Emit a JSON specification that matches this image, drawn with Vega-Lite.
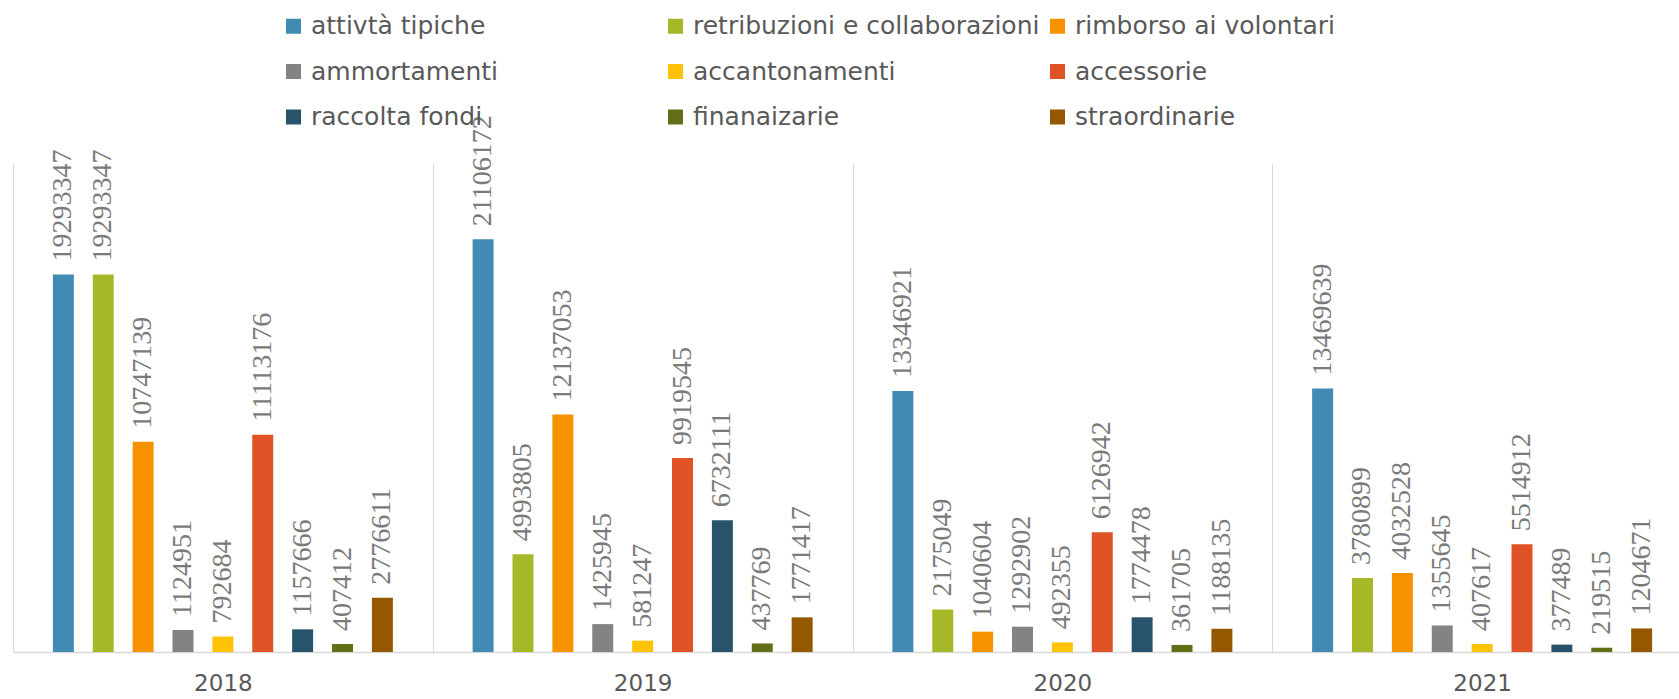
{
  "$schema": "https://vega.github.io/schema/vega-lite/v6.json",
  "width": 1666,
  "height": 489,
  "autosize": {"type": "none"},
  "padding": {"left": 13, "top": 163, "right": 0, "bottom": 47},
  "background": "white",
  "config": {"view": {"stroke": null}},
  "data": {
    "values": [
      {"anno": "2018", "voce": "attivtà tipiche", "valore": 19293347},
      {"anno": "2018", "voce": "retribuzioni e collaborazioni", "valore": 19293347},
      {"anno": "2018", "voce": "rimborso ai volontari", "valore": 10747139},
      {"anno": "2018", "voce": "ammortamenti", "valore": 1124951},
      {"anno": "2018", "voce": "accantonamenti", "valore": 792684},
      {"anno": "2018", "voce": "accessorie", "valore": 11113176},
      {"anno": "2018", "voce": "raccolta fondi", "valore": 1157666},
      {"anno": "2018", "voce": "finanaizarie", "valore": 407412},
      {"anno": "2018", "voce": "straordinarie", "valore": 2776611},
      {"anno": "2019", "voce": "attivtà tipiche", "valore": 21106172},
      {"anno": "2019", "voce": "retribuzioni e collaborazioni", "valore": 4993805},
      {"anno": "2019", "voce": "rimborso ai volontari", "valore": 12137053},
      {"anno": "2019", "voce": "ammortamenti", "valore": 1425945},
      {"anno": "2019", "voce": "accantonamenti", "valore": 581247},
      {"anno": "2019", "voce": "accessorie", "valore": 9919545},
      {"anno": "2019", "voce": "raccolta fondi", "valore": 6732111},
      {"anno": "2019", "voce": "finanaizarie", "valore": 437769},
      {"anno": "2019", "voce": "straordinarie", "valore": 1771417},
      {"anno": "2020", "voce": "attivtà tipiche", "valore": 13346921},
      {"anno": "2020", "voce": "retribuzioni e collaborazioni", "valore": 2175049},
      {"anno": "2020", "voce": "rimborso ai volontari", "valore": 1040604},
      {"anno": "2020", "voce": "ammortamenti", "valore": 1292902},
      {"anno": "2020", "voce": "accantonamenti", "valore": 492355},
      {"anno": "2020", "voce": "accessorie", "valore": 6126942},
      {"anno": "2020", "voce": "raccolta fondi", "valore": 1774478},
      {"anno": "2020", "voce": "finanaizarie", "valore": 361705},
      {"anno": "2020", "voce": "straordinarie", "valore": 1188135},
      {"anno": "2021", "voce": "attivtà tipiche", "valore": 13469639},
      {"anno": "2021", "voce": "retribuzioni e collaborazioni", "valore": 3780899},
      {"anno": "2021", "voce": "rimborso ai volontari", "valore": 4032528},
      {"anno": "2021", "voce": "ammortamenti", "valore": 1355645},
      {"anno": "2021", "voce": "accantonamenti", "valore": 407617},
      {"anno": "2021", "voce": "accessorie", "valore": 5514912},
      {"anno": "2021", "voce": "raccolta fondi", "valore": 377489},
      {"anno": "2021", "voce": "finanaizarie", "valore": 219515},
      {"anno": "2021", "voce": "straordinarie", "valore": 1204671}
    ]
  },
  "encoding": {
    "x": {
      "field": "anno",
      "type": "nominal",
      "scale": {"paddingInner": 0, "paddingOuter": 0, "range": [0, 1679]},
      "axis": {
        "title": null,
        "ticks": false,
        "grid": true,
        "tickBand": "extent",
        "gridColor": "#d9d9d9",
        "gridWidth": 1,
        "domainColor": "#d9d9d9",
        "domainWidth": 1.5,
        "labelAngle": 0,
        "labelFont": "DejaVu Sans",
        "labelFontSize": 23,
        "labelColor": "#595959",
        "labelPadding": 20
      }
    },
    "xOffset": {
      "field": "voce",
      "type": "nominal",
      "sort": ["attivtà tipiche", "retribuzioni e collaborazioni", "rimborso ai volontari", "ammortamenti", "accantonamenti", "accessorie", "raccolta fondi", "finanaizarie", "straordinarie"],
      "scale": {"paddingInner": 0.474, "paddingOuter": 1.173}
    },
    "y": {
      "field": "valore",
      "type": "quantitative",
      "scale": {"domain": [0, 25000000]},
      "axis": null
    }
  },
  "layer": [
    {
      "mark": {"type": "bar"},
      "encoding": {
        "color": {
          "field": "voce",
          "type": "nominal",
          "scale": {
            "domain": ["attivtà tipiche", "retribuzioni e collaborazioni", "rimborso ai volontari", "ammortamenti", "accantonamenti", "accessorie", "raccolta fondi", "finanaizarie", "straordinarie"],
            "range": ["#418AB3", "#A6B727", "#F69200", "#838383", "#FEC306", "#DF5327", "#27536B", "#646E17", "#945800"]
          },
          "legend": {
            "orient": "none",
            "direction": "horizontal",
            "legendX": 268,
            "legendY": -149.5,
            "columns": 3,
            "gridAlign": "all",
            "title": null,
            "symbolType": "square",
            "symbolSize": 225,
            "symbolStrokeWidth": 0,
            "symbolOpacity": 1,
            "labelFont": "DejaVu Sans",
            "labelFontSize": 25,
            "labelColor": "#595959",
            "labelOffset": 5,
            "columnPadding": 5,
            "rowPadding": 19.5,
            "labelLimit": 500,
            "padding": 0
          }
        }
      }
    },
    {
      "mark": {
        "type": "text",
        "angle": 270,
        "align": "left",
        "baseline": "middle",
        "dx": 13,
        "font": "Liberation Sans Narrow",
        "fontSize": 28,
        "fill": "#7a7a7a"
      },
      "encoding": {
        "text": {"field": "valore", "type": "quantitative", "format": "d"}
      }
    }
  ]
}
